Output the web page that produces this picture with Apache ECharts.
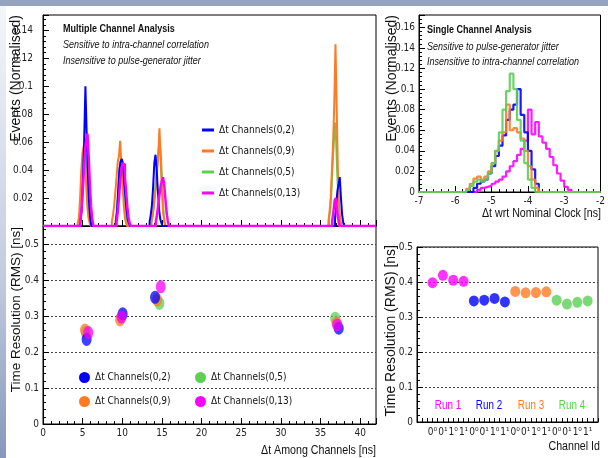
<!DOCTYPE html>
<html>
<head>
<meta charset="utf-8">
<script src="https://cdn.jsdelivr.net/npm/echarts@6/dist/echarts.min.js"></script>
<style>
html, body {margin: 0; padding: 0; background: #fff;}
#container {width: 608px; height: 458px;}
</style>
</head>
<body>
<div id="container"></div>
<script>
// series names / colours
var names = ['Δt Channels(0,2)', 'Δt Channels(0,9)', 'Δt Channels(0,5)', 'Δt Channels(0,13)'];
var colors = ['#0000ff', '#ff7a22', '#5ccf55', '#ff00ff'];

// multiple channel analysis: histogram bins (0.15 ns), start of each peak
var multiBin = 0.15;
var multiStart02 = [4.6, 9.18, 13.44, 36.83];
var multiVals02 = [
    [0, 0.004, 0.012, 0.035, 0.063, 0.100, 0.068, 0.040, 0.018, 0.006],
    [0.003, 0.010, 0.025, 0.040, 0.046, 0.048, 0.045, 0.032, 0.022, 0.012, 0.005, 0.002],
    [0.003, 0.008, 0.015, 0.028, 0.045, 0.051, 0.040, 0.025, 0.012, 0.005, 0.002],
    [0.005, 0.015, 0.025, 0.030, 0.035, 0.020, 0.008, 0.002]
];
var multiStart09 = [4.38, 8.68, 13.64, 35.99];
var multiVals09 = [
    [0.002, 0.006, 0.020, 0.040, 0.052, 0.057, 0.045, 0.030, 0.015, 0.006, 0.002],
    [0.003, 0.008, 0.015, 0.025, 0.035, 0.046, 0.050, 0.061, 0.045, 0.030, 0.015, 0.006, 0.002],
    [0.002, 0.006, 0.012, 0.020, 0.028, 0.040, 0.050, 0.070, 0.048, 0.025, 0.010, 0.003],
    [0.003, 0.010, 0.020, 0.040, 0.060, 0.088, 0.130, 0.085, 0.040, 0.015, 0.005]
];
var multiStart05 = [4.63, 9.18, 13.68, 36.08];
var multiVals05 = [
    [0.003, 0.010, 0.025, 0.045, 0.055, 0.050, 0.035, 0.020, 0.008, 0.002],
    [0.004, 0.012, 0.025, 0.038, 0.046, 0.048, 0.040, 0.025, 0.012, 0.004],
    [0.003, 0.008, 0.015, 0.025, 0.035, 0.045, 0.055, 0.060, 0.050, 0.030, 0.012, 0.003],
    [0.005, 0.012, 0.025, 0.045, 0.060, 0.074, 0.060, 0.035, 0.015, 0.005]
];
var multiStart013 = [4.71, 9.28, 14.23, 36.48];
var multiVals013 = [
    [0.004, 0.012, 0.025, 0.040, 0.055, 0.062, 0.066, 0.050, 0.030, 0.014, 0.005],
    [0.003, 0.010, 0.020, 0.032, 0.040, 0.045, 0.044, 0.035, 0.025, 0.014, 0.006, 0.002],
    [0.003, 0.008, 0.015, 0.022, 0.028, 0.032, 0.035, 0.030, 0.020, 0.010, 0.004],
    [0.004, 0.010, 0.018, 0.020, 0.012, 0.005]
];

// time resolution vs delta t
var dt02 = [5.5, 10.05, 14.13, 37.3];
var rms02 = [0.235, 0.306, 0.352, 0.266];
var dt09 = [5.3, 9.72, 14.4, 37.05];
var rms09 = [0.261, 0.289, 0.345, 0.280];
var dt05 = [5.4, 9.9, 14.68, 36.85];
var rms05 = [0.255, 0.298, 0.335, 0.294];
var dt013 = [5.72, 9.9, 14.85, 37.1];
var rms013 = [0.254, 0.297, 0.381, 0.275];

// single channel analysis: histogram bins (0.1 ns)
var singleBin = 0.1;
var singleStart = [-5.6, -5.7, -5.7, -5.4];
var singleBlue = [0, 0.004, 0.008, 0.010, 0.012, 0.018, 0.025, 0.035, 0.045, 0.055, 0.070, 0.080, 0.085, 0.100, 0.075, 0.058, 0.040, 0.022, 0.008];
var singleOrange = [0.003, 0.008, 0.013, 0.015, 0.012, 0.015, 0.020, 0.028, 0.040, 0.050, 0.058, 0.085, 0.060, 0.062, 0.058, 0.052, 0.040, 0.025, 0.012, 0.004];
var singleGreen = [0.002, 0.006, 0.010, 0.012, 0.010, 0.012, 0.018, 0.028, 0.040, 0.058, 0.080, 0.098, 0.115, 0.100, 0.070, 0.050, 0.028, 0.012, 0.004];
var singleMagenta = [0.002, 0.004, 0.005, 0.006, 0.008, 0.010, 0.012, 0.015, 0.020, 0.025, 0.030, 0.036, 0.042, 0.050, 0.080, 0.056, 0.068, 0.054, 0.048, 0.042, 0.034, 0.026, 0.018, 0.011, 0.005, 0.002];

// per-channel resolution, 4 runs
var channelLabels = ['0⁰', '0¹', '1⁰', '1¹', '0⁰', '0¹', '1⁰', '1¹', '0⁰', '0¹', '1⁰', '1¹', '0⁰', '0¹', '1⁰', '1¹'];
var run1 = [0.398, 0.419, 0.405, 0.402];
var run2 = [0.346, 0.348, 0.353, 0.343];
var run3 = [0.373, 0.369, 0.370, 0.372];
var run4 = [0.348, 0.337, 0.342, 0.346];
var runNames = ['Run 1', 'Run 2', 'Run 3', 'Run 4'];
var runColors = ['#ff00ff', '#0000ff', '#ff7a22', '#5ccf55'];

var FONT = '"Liberation Sans Narrow", "DejaVu Sans Condensed", "Liberation Sans", sans-serif';
var TFONT = '"Liberation Sans", Arial, sans-serif';

// 把每个峰的bin值拼成阶梯折线
function histLine(starts, vals, w, xmin, xmax) {
    var pts = [[xmin, 0]];
    for (var p = 0; p < starts.length; p++) {
        var s = starts[p];
        pts.push([s, 0]);
        for (var i = 0; i < vals[p].length; i++) {
            pts.push([s + i * w, vals[p][i]]);
            pts.push([s + (i + 1) * w, vals[p][i]]);
        }
        pts.push([s + vals[p].length * w, 0]);
    }
    pts.push([xmax, 0]);
    return pts;
}

function zip(xs, ys) {
    var out = [];
    for (var i = 0; i < xs.length; i++) out.push([xs[i], ys[i]]);
    return out;
}

function axisCommon(extra) {
    var a = {
        type: 'value',
        axisLine: {show: true, onZero: false, lineStyle: {color: '#000', width: 1}},
        axisTick: {show: true, inside: true, length: 6, lineStyle: {color: '#000'}},
        minorTick: {show: true, splitNumber: 5, length: 3, lineStyle: {color: '#000'}},
        splitLine: {show: false},
        axisLabel: {color: '#222', fontSize: 10, fontFamily: FONT, margin: 4}
    };
    for (var k in extra) a[k] = extra[k];
    return a;
}

var dotted = {show: true, lineStyle: {color: '#444', type: [2, 2], width: 1}};

var series = [];
var multiStarts = [multiStart02, multiStart09, multiStart05, multiStart013];
var multiVals = [multiVals02, multiVals09, multiVals05, multiVals013];
[2, 1, 0, 3].forEach(function (k) {
    series.push({
        name: names[k], type: 'line', xAxisIndex: 0, yAxisIndex: 0,
        data: histLine(multiStarts[k], multiVals[k], multiBin, 0, 42),
        showSymbol: false, lineStyle: {color: colors[k], width: k === 3 ? 2.5 : 2}, itemStyle: {color: colors[k]},
        silent: true
    });
});

var dts = [dt02, dt09, dt05, dt013];
var rmss = [rms02, rms09, rms05, rms013];
[2, 1, 0, 3].forEach(function (k) {
    series.push({
        name: names[k], type: 'scatter', xAxisIndex: 1, yAxisIndex: 1,
        data: zip(dts[k], rmss[k]), symbol: 'circle', symbolSize: [10, 13],
        itemStyle: {color: colors[k], opacity: 0.75}, silent: true
    });
});

var singleVals = [singleBlue, singleOrange, singleGreen, singleMagenta];
[3, 0, 1, 2].forEach(function (k) {
    series.push({
        name: names[k], type: 'line', xAxisIndex: 2, yAxisIndex: 2,
        data: histLine([singleStart[k]], [singleVals[k]], singleBin, -7, -2),
        showSymbol: false, lineStyle: {color: colors[k], width: 2.2, opacity: 0.9}, silent: true
    });
});

var runs = [run1, run2, run3, run4];
runs.forEach(function (r, j) {
    var pts = [];
    for (var i = 0; i < r.length; i++) pts.push([j * 4 + i + 1, r[i]]);
    series.push({
        name: runNames[j], type: 'scatter', xAxisIndex: 3, yAxisIndex: 3,
        data: pts, symbol: 'circle', symbolSize: [10, 11],
        itemStyle: {color: runColors[j]}, silent: true
    });
});

// 文字: 横排的文字按原图压窄一点
function txt(x, y, s, opt) {
    var st = {text: s, x: 0, y: 0, fill: opt.fill || '#111', font: opt.font + ' ' + TFONT,
        align: opt.align || 'left', verticalAlign: 'middle'};
    return {type: 'text', x: x, y: y, rotation: opt.rot || 0,
        scaleX: opt.rot ? 1 : 0.82, style: st, z: 50};
}

var graphics = [
    // 背景边框
    {type: 'rect', shape: {x: 0, y: 0, width: 608, height: 6}, style: {fill: '#95a3c0'}, z: -10},
    {type: 'rect', shape: {x: 0, y: 6, width: 6, height: 452}, z: -10,
        style: {fill: new echarts.graphic.LinearGradient(0, 0, 0, 1, [
            {offset: 0, color: '#f4f6fa'}, {offset: 0.6, color: '#c2cce0'}, {offset: 1, color: '#8797bd'}])}},
    txt(63, 29, 'Multiple Channel Analysis', {font: 'bold 11px'}),
    txt(63, 45, 'Sensitive to intra-channel correlation', {font: 'italic 11px'}),
    txt(63, 61, 'Insensitive to pulse-generator jitter', {font: 'italic 11px'}),
    txt(427, 30, 'Single Channel Analysis', {font: 'bold 11px'}),
    txt(427, 47, 'Sensitive to pulse-generator jitter', {font: 'italic 11px'}),
    txt(427, 62, 'Insensitive to intra-channel correlation', {font: 'italic 11px'}),
    txt(16, 15, 'Events (Normalised)', {font: '14px', rot: Math.PI / 2, align: 'right'}),
    txt(16, 227, 'Time Resolution (RMS) [ns]', {font: '13.5px', rot: Math.PI / 2, align: 'right'}),
    txt(392, 15, 'Events (Normalised)', {font: '14px', rot: Math.PI / 2, align: 'right'}),
    txt(391, 245, 'Time Resolution (RMS) [ns]', {font: '14px', rot: Math.PI / 2, align: 'right'}),
    txt(376, 450, 'Δt Among Channels [ns]', {font: '13px', align: 'right'}),
    txt(601, 213, 'Δt wrt Nominal Clock [ns]', {font: '13px', align: 'right'}),
    txt(600, 446, 'Channel Id', {font: '13px', align: 'right'})
];
var runX = [448, 489, 531, 572];
runNames.forEach(function (n, j) {
    graphics.push(txt(runX[j], 406, n, {font: '12px', align: 'center', fill: runColors[j]}));
});

var option = {
    animation: false,
    backgroundColor: '#fff',
    grid: [
        {left: 43, top: 15, width: 333, height: 211, show: true, borderColor: '#000', borderWidth: 1},
        {left: 43, top: 226, width: 333, height: 198, show: true, borderColor: '#000', borderWidth: 1},
        {left: 419, top: 15, width: 182, height: 177, show: true, borderColor: '#000', borderWidth: 1},
        {left: 417, top: 247, width: 181, height: 175, show: true, borderColor: '#000', borderWidth: 1}
    ],
    xAxis: [
        axisCommon({gridIndex: 0, min: 0, max: 42, interval: 5, axisLabel: {show: false}}),
        axisCommon({gridIndex: 1, min: 0, max: 42, interval: 5,
            axisLabel: {color: '#222', fontSize: 10, fontFamily: FONT, margin: 4, showMaxLabel: false}}),
        axisCommon({gridIndex: 2, min: -7, max: -2, interval: 1}),
        axisCommon({gridIndex: 3, min: -0.5, max: 17, interval: 0.5, minorTick: {show: false},
            axisTick: {show: true, inside: true, length: 4, lineStyle: {color: '#000'}},
            axisLabel: {color: '#222', fontSize: 10, fontFamily: FONT, margin: 5, interval: 0,
                formatter: function (v) {
                    var i = Math.round(v);
                    return (Math.abs(v - i) < 1e-6 && i >= 1 && i <= 16) ? channelLabels[i - 1] : '';
                }}})
    ],
    yAxis: [
        axisCommon({gridIndex: 0, min: 0, max: 0.151, interval: 0.02,
            axisLabel: {color: '#222', fontSize: 10, fontFamily: FONT, margin: 10, showMaxLabel: false,
                formatter: function (v) { return v === 0 ? '' : String(+v.toFixed(2)); }}}),
        axisCommon({gridIndex: 1, min: 0, max: 0.55, interval: 0.1, splitLine: dotted,
            axisLabel: {color: '#222', fontSize: 10, fontFamily: FONT, margin: 4, showMaxLabel: false}}),
        axisCommon({gridIndex: 2, min: 0, max: 0.172, interval: 0.02,
            axisLabel: {color: '#222', fontSize: 10, fontFamily: FONT, margin: 4, showMaxLabel: false,
                formatter: function (v) { return String(+v.toFixed(2)); }}}),
        axisCommon({gridIndex: 3, min: 0, max: 0.5, interval: 0.1, splitLine: dotted})
    ],
    legend: [
        {data: names.map(function (n) { return {name: n, icon: 'rect'}; }), orient: 'vertical',
            left: 197, top: 120, itemWidth: 12, itemHeight: 3, itemGap: 11, selectedMode: false,
            textStyle: {fontSize: 10, fontFamily: FONT, color: '#111'}},
        {data: [{name: names[0], icon: 'circle'}, {name: names[1], icon: 'circle'}], orient: 'vertical',
            left: 74, top: 367, itemWidth: 11, itemHeight: 11, itemGap: 13, selectedMode: false,
            textStyle: {fontSize: 10, fontFamily: FONT, color: '#111'}},
        {data: [{name: names[2], icon: 'circle'}, {name: names[3], icon: 'circle'}], orient: 'vertical',
            left: 190, top: 367, itemWidth: 11, itemHeight: 11, itemGap: 13, selectedMode: false,
            textStyle: {fontSize: 10, fontFamily: FONT, color: '#111'}}
    ],
    graphic: graphics,
    series: series
};
var myChart = echarts.init(document.getElementById('container'));
myChart.setOption(option, true);
</script>
</body>
</html>
